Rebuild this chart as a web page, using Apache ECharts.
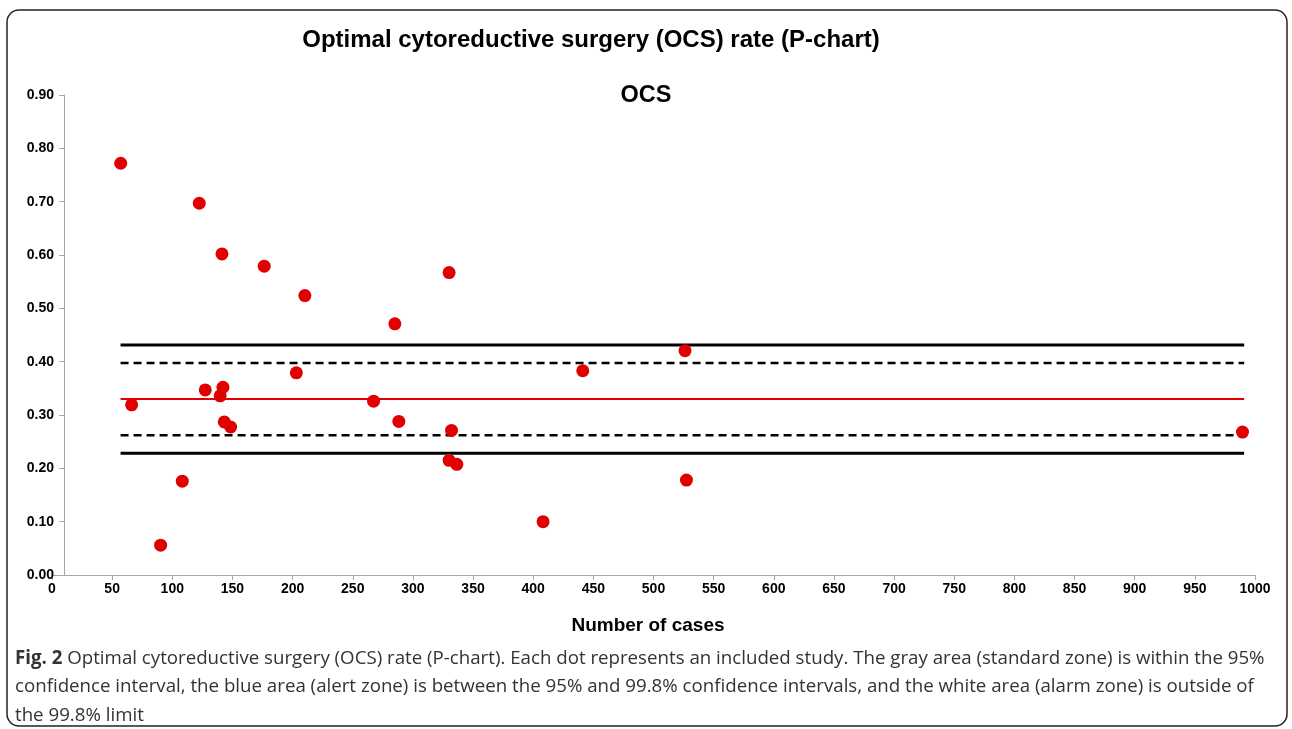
<!DOCTYPE html>
<html>
<head>
<meta charset="utf-8">
<script src="https://cdn.jsdelivr.net/npm/echarts@6/dist/echarts.min.js"></script>
<style>html,body{margin:0;padding:0;background:#fff;}#c{width:1292px;height:729px;}</style>
</head>
<body>
<div id="c"></div>
<script>
// Number of cases per study
const cases = [57.1, 66.2, 90.3, 108.3, 122.4, 127.4, 141.3, 139.8, 142.1, 143.2, 148.5, 176.4, 203.1, 210.2, 267.3, 285.0, 288.3, 330.1, 332.1, 330.1, 336.5, 408.2, 441.2, 526.2, 527.4, 989.6];
// OCS rate per study
const rates = [0.772, 0.319, 0.056, 0.176, 0.697, 0.347, 0.602, 0.336, 0.352, 0.287, 0.2775, 0.579, 0.379, 0.524, 0.326, 0.471, 0.288, 0.567, 0.271, 0.215, 0.2076, 0.100, 0.383, 0.4206, 0.178, 0.268];
// Control limits
const limitRange = [57, 991];
const centerLine = 0.330;
const upper95 = 0.3975;
const lower95 = 0.262;
const upper998 = 0.4313;
const lower998 = 0.2282;
const xTicks = {min: 0, max: 1000, interval: 50};
const yTicks = {min: 0, max: 0.9, interval: 0.1};

const points = cases.map((c, i) => [c, rates[i]]);
const hline = v => limitRange.map(x => [x, v]);

const chart = echarts.init(document.getElementById('c'), null, {renderer: 'canvas'});
const FF = 'Liberation Sans, Arial, sans-serif';
const axisFont = {fontFamily: FF, fontWeight: 'bold', fontSize: 14, color: '#000'};
const limitLine = (name, v, color, type, width) => ({
  name, type: 'line', data: hline(v), symbol: 'none', silent: true, z: 2,
  lineStyle: {color, type, width}
});
chart.setOption({
  animation: false,
  grid: {left: 52, right: 37, top: 95, bottom: 154, containLabel: false},
  title: [
    {text: 'Optimal cytoreductive surgery (OCS) rate (P-chart)', left: 586, top: 23, textAlign: 'center',
     textStyle: {fontFamily: FF, fontWeight: 'bold', fontSize: 24, color: '#000'}},
    {text: 'OCS', left: 641, top: 79, textAlign: 'center',
     textStyle: {fontFamily: FF, fontWeight: 'bold', fontSize: 23.5, color: '#000'}}
  ],
  xAxis: {
    type: 'value', min: xTicks.min, max: xTicks.max, interval: xTicks.interval,
    axisLine: {show: true, onZero: false, lineStyle: {color: '#a6a6a6', width: 1}},
    axisTick: {show: true, length: 5, lineStyle: {color: '#a6a6a6'}},
    axisLabel: Object.assign({margin: 7, formatter: v => String(v)}, axisFont),
    splitLine: {show: false}
  },
  yAxis: {
    type: 'value', min: yTicks.min, max: yTicks.max, interval: yTicks.interval, offset: -12,
    axisLine: {show: true, lineStyle: {color: '#a6a6a6', width: 1}},
    axisTick: {show: true, length: 5, lineStyle: {color: '#a6a6a6'}},
    axisLabel: Object.assign({margin: 10, formatter: v => v.toFixed(2)}, axisFont),
    splitLine: {show: false}
  },
  series: [
    limitLine('UCL 99.8%', upper998, '#000', 'solid', 3),
    limitLine('UCL 95%', upper95, '#000', [8, 5], 2.5),
    limitLine('Center', centerLine, '#e00000', 'solid', 2),
    limitLine('LCL 95%', lower95, '#000', [8, 5], 2.5),
    limitLine('LCL 99.8%', lower998, '#000', 'solid', 3),
    {name: 'OCS', type: 'scatter', data: points, symbol: 'circle', symbolSize: 13, z: 5,
     itemStyle: {color: '#e00000', opacity: 1}}
  ],
  graphic: [
    {type: 'rect', shape: {x: 7, y: 10, width: 1280, height: 716, r: 12}, z: 100, silent: true,
     style: {fill: 'none', stroke: '#222', lineWidth: 1.5}},
    {type: 'text', x: 648, y: 626, z: 100, silent: true,
     style: {text: 'Number of cases', font: 'bold 19px "Liberation Sans", Arial, sans-serif', fill: '#000',
             align: 'center', verticalAlign: 'middle'}},
    {type: 'text', left: 15, top: 644, z: 100, silent: true,
     style: {
       text: '{b|Fig. 2} Optimal cytoreductive surgery (OCS) rate (P-chart). Each dot represents an included study. The gray area (standard zone) is within the 95%\nconfidence interval, the blue area (alert zone) is between the 95% and 99.8% confidence intervals, and the white area (alarm zone) is outside of\nthe 99.8% limit',
       font: '18.7px "Open Sans", sans-serif', fill: '#333', lineHeight: 28.5,
       rich: {b: {fontFamily: 'Open Sans, sans-serif', fontWeight: 'bold', fontSize: 18.7, fill: '#333', lineHeight: 28.5}}
     }}
  ]
});
</script>
</body>
</html>
